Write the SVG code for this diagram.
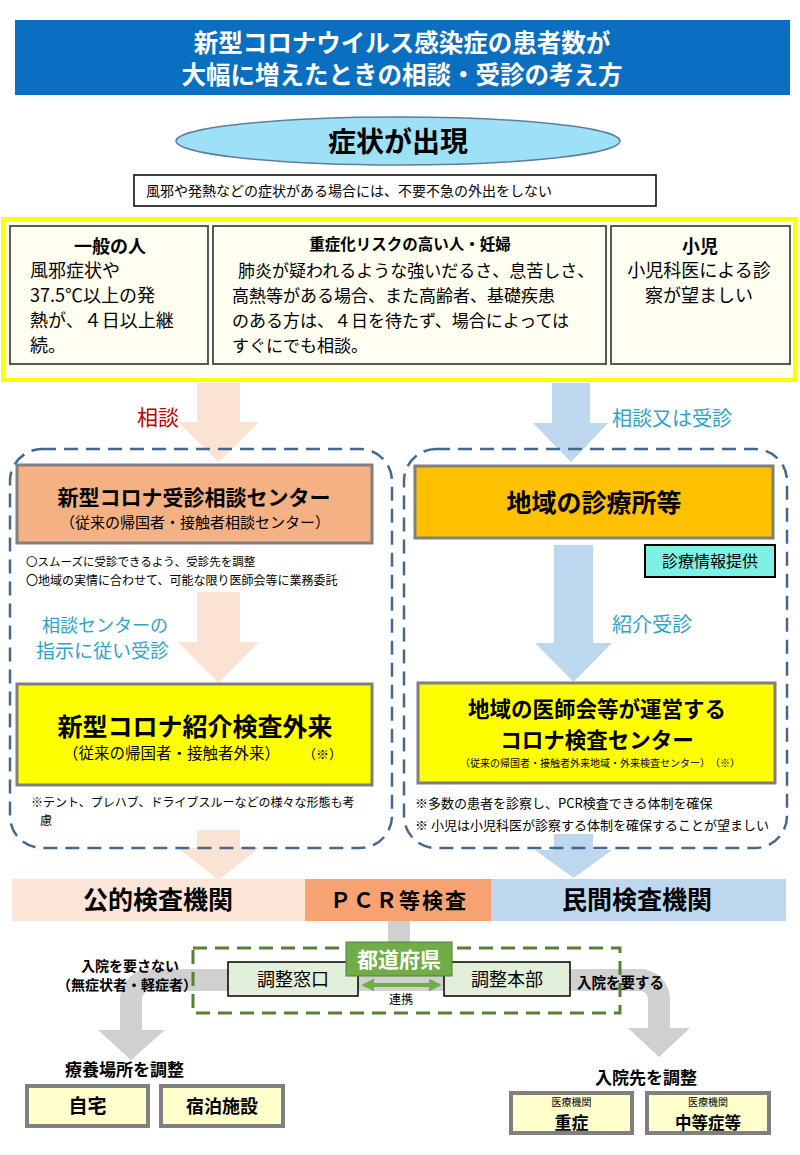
<svg xmlns="http://www.w3.org/2000/svg" width="800" height="1155" viewBox="0 0 800 1155">
<style>
text{font-family:"Noto Sans CJK JP","Noto Sans",sans-serif;fill:#000}
.b{font-weight:700}
.c{text-anchor:middle}
.w{fill:#fff}
.teal{fill:#2EA3CC}
.inner{fill:#FFFEF0;stroke:#595959;stroke-width:2}
.dash{fill:none;stroke:#44698E;stroke-width:2.5;stroke-dasharray:14 8}
.gbox{fill:#FFFFCC;stroke:#808080;stroke-width:4}
.peach{fill:#FBE3D3}
.blue{fill:#BDD7EE}
.gray{fill:#D0D0D0}
</style>
<defs>
<marker id="gh" viewBox="0 0 10 10" refX="8" refY="5" markerWidth="3.2" markerHeight="3.2" orient="auto-start-reverse">
<path d="M0,0 L10,5 L0,10 Z" fill="#70AD47"/>
</marker>
</defs>
<rect width="800" height="1155" fill="#fff"/>

<g id="title">
<rect x="15" y="20" width="775" height="75" fill="#0B6FC1"/>
<text class="b c w" x="402" y="52" font-size="24.5">新型コロナウイルス感染症の患者数が</text>
<text class="b c w" x="402" y="84" font-size="24.5">大幅に増えたときの相談・受診の考え方</text>
</g>

<g id="symptom">
<ellipse cx="398" cy="141" rx="222" ry="24" fill="#9EE1F7" stroke="#5B7FA0" stroke-width="1.5"/>
<text class="b c" x="398" y="152" font-size="28">症状が出現</text>
</g>

<g id="notice">
<rect x="134" y="175" width="522" height="31" fill="#fff" stroke="#000" stroke-width="1.5"/>
<text x="146" y="196" font-size="14">風邪や発熱などの症状がある場合には、不要不急の外出をしない</text>
</g>

<g id="categories">
<rect x="3" y="219" width="792" height="161" fill="#FFFEF0" stroke="#FFFF00" stroke-width="4"/>
<g id="general">
<rect class="inner" x="10" y="226" width="198" height="138"/>
<text class="b c" x="110" y="253" font-size="18">一般の人</text>
<text x="30" y="277" font-size="18">風邪症状や</text>
<text x="30" y="302" font-size="18">37.5℃以上の発</text>
<text x="30" y="327" font-size="18">熱が、４日以上継</text>
<text x="30" y="352" font-size="18">続。</text>
</g>
<g id="highrisk">
<rect class="inner" x="213" y="226" width="393" height="138"/>
<text class="b c" x="410" y="250" font-size="15.5">重症化リスクの高い人・妊婦</text>
<text x="238" y="277" font-size="17">肺炎が疑われるような強いだるさ、息苦しさ、</text>
<text x="232" y="302" font-size="17">高熱等がある場合、また高齢者、基礎疾患</text>
<text x="232" y="327" font-size="17">のある方は、４日を待たず、場合によっては</text>
<text x="232" y="352" font-size="17">すぐにでも相談。</text>
</g>
<g id="child">
<rect class="inner" x="611" y="226" width="179" height="138"/>
<text class="b c" x="700" y="253" font-size="18">小児</text>
<text class="c" x="699" y="277" font-size="18">小児科医による診</text>
<text class="c" x="699" y="302" font-size="18">察が望ましい</text>
</g>
</g>

<g id="connectors">
<polygon class="peach" points="197,383 240,383 240,422 259,422 218.5,462 178,422 197,422"/>
<polygon class="peach" points="197,592 240,592 240,642 259,642 218.5,683 178,642 197,642"/>
<polygon class="peach" points="197,830 240,830 240,848 259,848 218.5,880 178,848 197,848"/>
<polygon class="blue" points="552,383 590,383 590,423 608,423 571,462 533,423 552,423"/>
<polygon class="blue" points="554,545 593,545 593,643 612,643 573.5,682 535,643 554,643"/>
<polygon class="blue" points="554,834 593,834 593,850 612,850 573.5,878 535,850 554,850"/>
<rect class="gray" x="388" y="921" width="22" height="50"/>
<path class="gray" d="M400,969 L150,969 A30,30 0 0 0 120,999 L120,1030 L98,1030 L131,1060 L165,1030 L142,1030 L142,999 A8,8 0 0 1 150,991 L400,991 Z"/>
<path class="gray" d="M400,969 L640,969 A30,30 0 0 1 670,999 L670,1028 L690,1028 L659,1057 L628,1028 L648,1028 L648,999 A8,8 0 0 0 640,991 L400,991 Z"/>
<text x="137" y="425" font-size="21" style="fill:#C00000">相談</text>
<text class="teal" x="612" y="426" font-size="20">相談又は受診</text>
<text class="teal" x="42" y="632" font-size="18">相談センターの</text>
<text class="teal" x="36" y="658" font-size="19">指示に従い受診</text>
<text class="teal" x="612" y="632" font-size="20">紹介受診</text>
</g>

<g id="left-group">
<rect class="dash" x="10" y="449" width="382" height="399" rx="32"/>
</g>
<g id="right-group">
<rect class="dash" x="404" y="449" width="383" height="399" rx="32"/>
</g>

<g id="consult-center">
<rect x="17" y="465" width="355" height="78" fill="#F4B183" stroke="#7F7F7F" stroke-width="3"/>
<text class="b c" x="194" y="505" font-size="21">新型コロナ受診相談センター</text>
<text class="c" x="195" y="528" font-size="15">（従来の帰国者・接触者相談センター）</text>
</g>
<g id="consult-notes">
<text x="26" y="566" font-size="11.5">〇スムーズに受診できるよう、受診先を調整</text>
<text x="26" y="585" font-size="12">〇地域の実情に合わせて、可能な限り医師会等に業務委託</text>
</g>

<g id="referral-outpatient">
<rect x="17" y="684" width="355" height="101" fill="#FFFF00" stroke="#7F7F7F" stroke-width="3"/>
<text class="b c" x="195" y="736" font-size="25">新型コロナ紹介検査外来</text>
<text x="63" y="759" font-size="15.5">（従来の帰国者・接触者外来）</text>
<text x="303" y="759" font-size="13">（※）</text>
</g>
<g id="outpatient-note">
<text x="31" y="807" font-size="12">※テント、プレハブ、ドライブスルーなどの様々な形態も考</text>
<text x="40" y="825" font-size="12">慮</text>
</g>

<g id="clinic">
<rect x="415" y="466" width="358" height="72" fill="#FFC000" stroke="#7F7F7F" stroke-width="3"/>
<text class="b c" x="594" y="512" font-size="25">地域の診療所等</text>
</g>
<g id="info-provision">
<rect x="645" y="545" width="130" height="32" fill="#7FF0E4" stroke="#000" stroke-width="2"/>
<text class="c" x="710" y="567" font-size="16">診療情報提供</text>
</g>

<g id="test-center">
<rect x="418" y="683" width="357" height="100" fill="#FFFF00" stroke="#7F7F7F" stroke-width="3"/>
<text class="b c" x="597" y="717" font-size="21.5">地域の医師会等が運営する</text>
<text class="b c" x="597" y="748" font-size="21.5">コロナ検査センター</text>
<text class="c" x="600" y="767" font-size="10">（従来の帰国者・接触者外来地域・外来検査センター）　（※）</text>
</g>
<g id="test-center-notes">
<text x="415" y="808" font-size="13">※多数の患者を診察し、PCR検査できる体制を確保</text>
<text x="415" y="830" font-size="13">※ 小児は小児科医が診察する体制を確保することが望ましい</text>
</g>

<g id="pcr-bar">
<rect x="12" y="879" width="293" height="42" fill="#FBE5D6"/>
<rect x="305" y="879" width="186" height="42" fill="#F7A273"/>
<rect x="491" y="879" width="295" height="42" fill="#BDD7EE"/>
<text class="b c" x="158" y="909" font-size="25">公的検査機関</text>
<text class="b c" x="399" y="908" font-size="21" letter-spacing="2">ＰＣＲ等検査</text>
<text class="b c" x="637" y="909" font-size="25">民間検査機関</text>
</g>

<g id="prefecture">
<rect x="193" y="948" width="427" height="65" fill="none" stroke="#548235" stroke-width="3" stroke-dasharray="14 8"/>
<g id="madoguchi">
<rect x="228" y="962" width="130" height="34" fill="#E2EFDA" stroke="#000" stroke-width="1.5"/>
<text class="c" x="293" y="986" font-size="18">調整窓口</text>
</g>
<g id="honbu">
<rect x="444" y="962" width="126" height="34" fill="#E2EFDA" stroke="#000" stroke-width="1.5"/>
<text class="c" x="507" y="986" font-size="18">調整本部</text>
</g>
<g id="todofuken">
<rect x="346" y="942" width="106" height="34" fill="#70AD47" stroke="#507E32" stroke-width="1"/>
<text class="b c w" x="399" y="967" font-size="21">都道府県</text>
</g>
<line x1="364" y1="985" x2="439" y2="985" stroke="#70AD47" stroke-width="4" marker-start="url(#gh)" marker-end="url(#gh)"/>
<text class="c" x="401" y="1004" font-size="12">連携</text>
</g>

<g id="no-hospital-label">
<text class="b c" x="130" y="971" font-size="14">入院を要さない</text>
<text class="b c" x="127" y="990" font-size="14">（無症状者・軽症者）</text>
</g>
<g id="hospital-label">
<text class="b" x="577" y="988" font-size="14.5">入院を要する</text>
</g>

<g id="recuperation">
<text class="b" x="65" y="1076" font-size="17">療養場所を調整</text>
<g id="home">
<rect class="gbox" x="27" y="1086" width="121" height="40"/>
<text class="b c" x="87.5" y="1113" font-size="19">自宅</text>
</g>
<g id="hotel">
<rect class="gbox" x="161" y="1086" width="122" height="40"/>
<text class="b c" x="222" y="1113" font-size="18">宿泊施設</text>
</g>
</g>

<g id="admission">
<text class="b" x="595" y="1084" font-size="17">入院先を調整</text>
<g id="severe">
<rect class="gbox" x="511" y="1093" width="121" height="40"/>
<text class="c" x="571.5" y="1106" font-size="10">医療機関</text>
<text class="b c" x="571.5" y="1129" font-size="17">重症</text>
</g>
<g id="moderate">
<rect class="gbox" x="647" y="1093" width="122" height="40"/>
<text class="c" x="708" y="1106" font-size="10">医療機関</text>
<text class="b c" x="708" y="1129" font-size="16.5">中等症等</text>
</g>
</g>
</svg>
